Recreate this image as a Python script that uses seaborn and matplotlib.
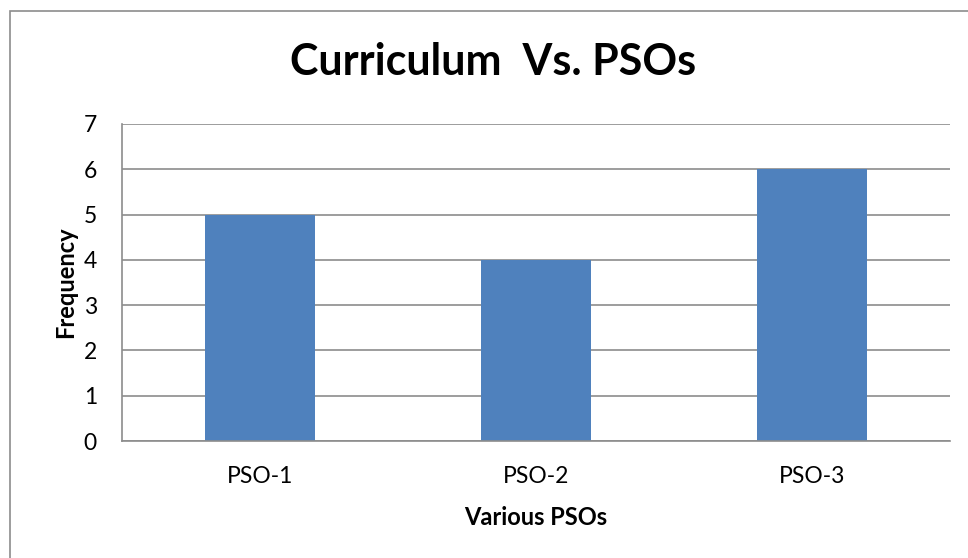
import matplotlib
matplotlib.use("Agg")
import matplotlib.pyplot as plt
import seaborn as sns
import pandas as pd
from matplotlib.patches import Rectangle

categories = ["PSO-1", "PSO-2", "PSO-3"]
values = [5, 4, 6]
yticks = [0, 1, 2, 3, 4, 5, 6, 7]

sns.set_theme(style="white")
plt.rcParams['font.family'] = ['Lato', 'DejaVu Sans']
plt.rcParams['text.color'] = 'black'

df = pd.DataFrame({"PSO": categories, "Frequency": values})

fig = plt.figure(figsize=(9.68, 5.58), dpi=100)
ax = fig.add_axes([122/968, 1-441/558, (950-122)/968, (441-124)/558])

sns.barplot(data=df, x="PSO", y="Frequency", color="#4F81BD", saturation=1,
            width=0.4, ax=ax, edgecolor="none")

ax.set_ylim(0, 7)
ax.set_yticks(yticks)
ax.set_xlim(-0.5, 2.5)
ax.yaxis.grid(True, color="#8C8C8C", linewidth=1.2)
ax.set_axisbelow(True)
for s in ["top", "right"]:
    ax.spines[s].set_visible(False)
for s in ["left", "bottom"]:
    ax.spines[s].set_color("#8C8C8C")
    ax.spines[s].set_linewidth(1.2)
ax.tick_params(axis="both", length=0, labelsize=16.5, colors="black")
ax.tick_params(axis="y", pad=18)
ax.tick_params(axis="x", pad=18)

ax.set_xlabel("Various PSOs", fontsize=17, fontweight="bold", labelpad=14, color="black")
ax.set_ylabel("Frequency", fontsize=17, fontweight="bold", labelpad=5, color="black")

fig.text(493/968, 1-62/558, "Curriculum  Vs. PSOs", fontsize=31, fontweight="bold",
         ha="center", va="center", color="black")

fig.patches.append(Rectangle((10/968, -0.1), 2, 1-11/558+0.1, transform=fig.transFigure,
                             fill=False, edgecolor="#8C8C8C", linewidth=1.2))

fig.savefig("out.png", dpi=100)
